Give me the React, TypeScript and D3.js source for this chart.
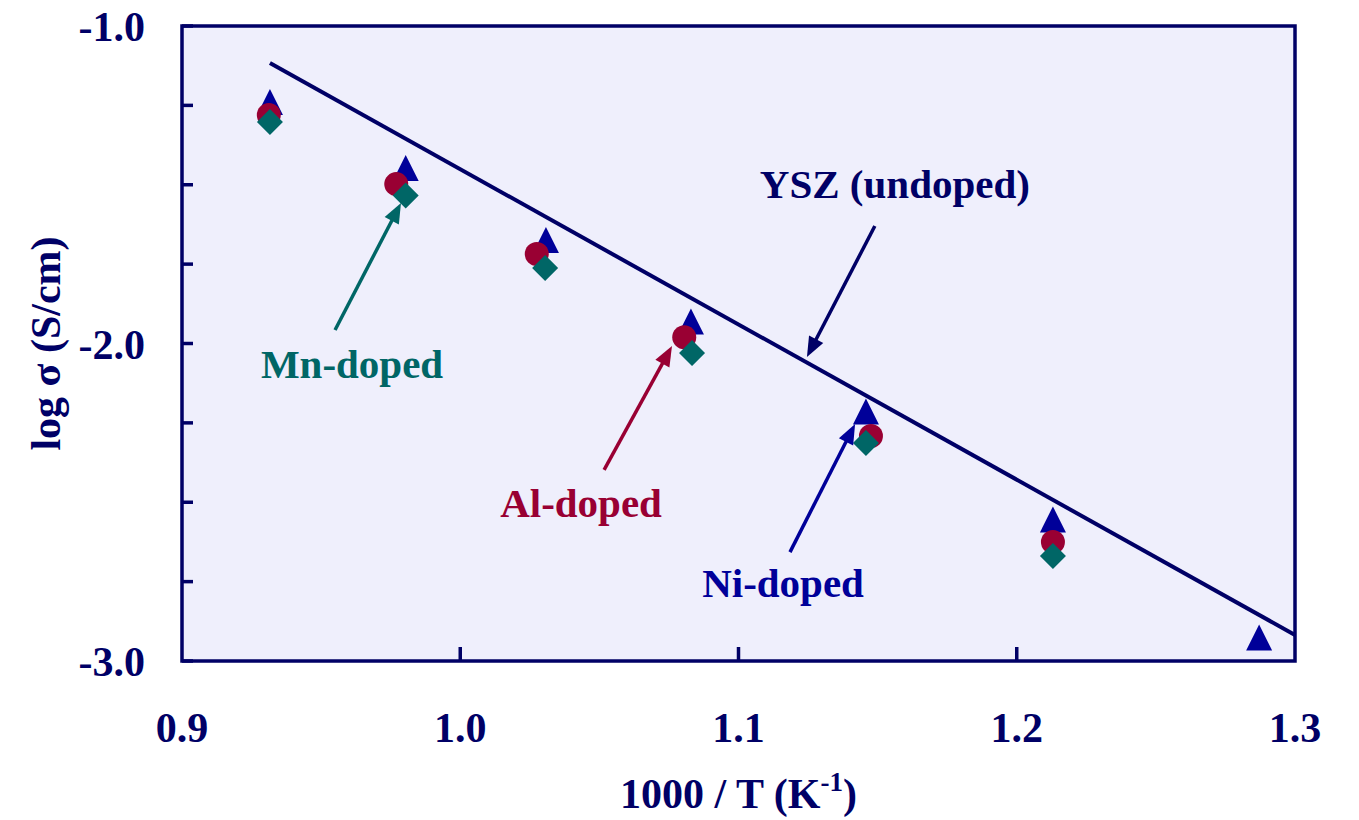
import React from 'react';
import * as d3 from 'd3';

// 1000/T values and log(sigma)
const niX = [0.9316, 0.9804, 1.0308, 1.0829, 1.1458, 1.213, 1.2871];
const niY = [-1.239, -1.447, -1.674, -1.931, -2.214, -2.554, -2.926];
const alX = [0.9312, 0.977, 1.0275, 1.0805, 1.1476, 1.213];
const alY = [-1.28, -1.498, -1.718, -1.98, -2.291, -2.625];
const mnX = [0.9316, 0.9804, 1.0305, 1.0833, 1.1458, 1.213];
const mnY = [-1.302, -1.534, -1.762, -2.03, -2.313, -2.669];
const yszX = [0.9316, 1.3];
const yszY = [-1.1165, -2.918];

const xTicks = [0.9, 1.0, 1.1, 1.2, 1.3];
const yTicks = [-1.0, -2.0, -3.0];
const yMinor = [-1.25, -1.5, -1.75, -2.25, -2.5, -2.75];

type Note = { text: string; color: string; lx: number; ly: number; from: [number, number]; to: [number, number] };
const notes: Note[] = [
  { text: 'YSZ (undoped)', color: '#000066', lx: 1.1562, ly: -1.5417, from: [1.149, -1.63], to: [1.1246, -2.0425] },
  { text: 'Mn-doped', color: '#006666', lx: 0.9611, ly: -2.1087, from: [0.955, -1.9575], to: [0.9787, -1.5575] },
  { text: 'Al-doped', color: '#990033', lx: 1.0434, ly: -2.5465, from: [1.0517, -2.398], to: [1.0761, -2.008] },
  { text: 'Ni-doped', color: '#000099', lx: 1.116, ly: -2.798, from: [1.1185, -2.657], to: [1.1419, -2.2535] },
];

const navy = '#000066';
const font = '"Liberation Serif", "Times New Roman", serif';

const margin = { left: 182, top: 26, right: 1359 - 1295, bottom: 820 - 661 };
const W = 1359;
const H = 820;

export default function App() {
  const x = d3.scaleLinear().domain([0.9, 1.3]).range([margin.left, W - margin.right]);
  const y = d3.scaleLinear().domain([-1.0, -3.0]).range([margin.top, H - margin.bottom]);
  const line = d3.line<number>().x((_, i) => x(yszX[i])).y((d) => y(d));

  const tri = (cx: number, cy: number, s = 26) =>
    `M${cx},${cy - s / 2}L${cx + s / 2},${cy + s / 2}L${cx - s / 2},${cy + s / 2}Z`;
  const dia = (cx: number, cy: number, r = 13) =>
    `M${cx},${cy - r}L${cx + r},${cy}L${cx},${cy + r}L${cx - r},${cy}Z`;

  const arrow = (n: Note, i: number) => {
    const x1 = x(n.from[0]), y1 = y(n.from[1]);
    const x2 = x(n.to[0]), y2 = y(n.to[1]);
    const a = Math.atan2(y2 - y1, x2 - x1);
    const len = 20, hw = 8;
    const bx = x2 - len * Math.cos(a), by = y2 - len * Math.sin(a);
    const px = -Math.sin(a) * hw, py = Math.cos(a) * hw;
    return (
      <g key={'a' + i}>
        <line x1={x1} y1={y1} x2={bx + 2 * Math.cos(a)} y2={by + 2 * Math.sin(a)} stroke={n.color} strokeWidth={3.5} />
        <path d={`M${x2},${y2}L${bx + px},${by + py}L${bx - px},${by - py}Z`} fill={n.color} />
      </g>
    );
  };

  const x0 = x(0.9), x1 = x(1.3), y0 = y(-1.0), y1 = y(-3.0);

  return (
    <svg width={W} height={H} style={{ position: 'absolute', left: 0, top: 0, background: '#fff' }} fontFamily={font} fontWeight="bold">
      <rect x={x0} y={y0} width={x1 - x0} height={y1 - y0} fill="#EFEFFC" />
      {/* y ticks, inward */}
      {[...yTicks, ...yMinor].map((v) => (
        <line key={'yt' + v} x1={x0} x2={x0 + 11} y1={y(v)} y2={y(v)} stroke={navy} strokeWidth={3.5} />
      ))}
      {xTicks.slice(1, -1).map((v) => (
        <line key={'xt' + v} x1={x(v)} x2={x(v)} y1={y1} y2={y1 - 14} stroke={navy} strokeWidth={3.5} />
      ))}
      <rect x={x0} y={y0} width={x1 - x0} height={y1 - y0} fill="none" stroke={navy} strokeWidth={3.5} />

      {/* tick labels */}
      {yTicks.map((v) => (
        <text key={'yl' + v} x={x0 - 37} y={y(v) + 15} textAnchor="end" fontSize={42} fill={navy}>
          {v.toFixed(1)}
        </text>
      ))}
      {xTicks.map((v) => (
        <text key={'xl' + v} x={x(v)} y={742} textAnchor="middle" fontSize={42} fill={navy}>
          {v.toFixed(1)}
        </text>
      ))}

      {/* axis titles */}
      <text x={(x0 + x1) / 2} y={808} textAnchor="middle" fontSize={42} fill={navy}>
        1000 / T (K<tspan dy={-17} fontSize={27}>-1</tspan>
        <tspan dy={17}>)</tspan>
      </text>
      <text transform={`translate(60,${(y0 + y1) / 2}) rotate(-90)`} textAnchor="middle" fontSize={42} fill={navy}>
        log σ (S/cm)
      </text>

      {/* undoped YSZ fit line */}
      <path d={line(yszY) || ''} fill="none" stroke={navy} strokeWidth={4} />

      {niX.map((v, i) => (
        <path key={'ni' + i} d={tri(x(v), y(niY[i]))} fill="#000099" />
      ))}
      {alX.map((v, i) => (
        <circle key={'al' + i} cx={x(v)} cy={y(alY[i])} r={12} fill="#990033" />
      ))}
      {mnX.map((v, i) => (
        <path key={'mn' + i} d={dia(x(v), y(mnY[i]))} fill="#006666" />
      ))}

      {notes.map(arrow)}
      {notes.map((n) => (
        <text key={n.text} x={x(n.lx)} y={y(n.ly)} textAnchor="middle" fontSize={41} fill={n.color}>
          {n.text}
        </text>
      ))}
    </svg>
  );
}
